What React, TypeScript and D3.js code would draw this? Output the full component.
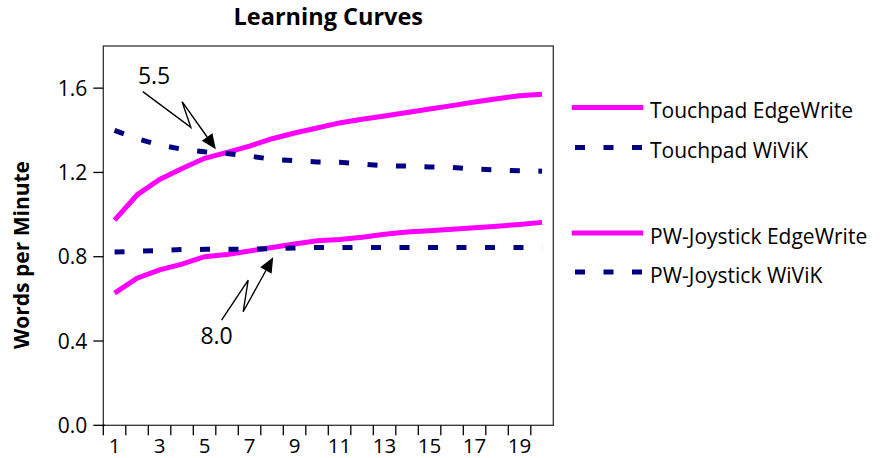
import React from "react";
import * as d3 from "d3";

const sessions = d3.range(1, 21);
const tickLabels = ["1", "3", "5", "7", "9", "11", "13", "15", "17", "19"];
const yTicks = [0, 0.4, 0.8, 1.2, 1.6];

const touchpadEdgeWrite = [0.974, 1.093, 1.167, 1.219, 1.267, 1.295, 1.325, 1.36, 1.387, 1.411, 1.435, 1.452, 1.468, 1.484, 1.501, 1.517, 1.534, 1.55, 1.564, 1.571];
const touchpadWiViK = [1.4, 1.36, 1.33, 1.31, 1.298, 1.29, 1.278, 1.262, 1.256, 1.25, 1.248, 1.24, 1.232, 1.23, 1.226, 1.224, 1.216, 1.212, 1.208, 1.206];
const joystickEdgeWrite = [0.627, 0.698, 0.738, 0.765, 0.8, 0.811, 0.827, 0.844, 0.86, 0.876, 0.882, 0.892, 0.907, 0.917, 0.923, 0.93, 0.937, 0.945, 0.953, 0.963];
const joystickWiViK = [0.822, 0.826, 0.83, 0.834, 0.835, 0.836, 0.836, 0.838, 0.841, 0.844, 0.844, 0.844, 0.844, 0.844, 0.844, 0.844, 0.844, 0.844, 0.844, 0.844];

const seriesNames = ["Touchpad EdgeWrite", "Touchpad WiViK", "PW-Joystick EdgeWrite", "PW-Joystick WiViK"];
const seriesValues = [touchpadEdgeWrite, touchpadWiViK, joystickEdgeWrite, joystickWiViK];
const seriesDashed = [false, true, false, true];

const annotations = [
  { label: "5.5", session: 5.5, value: 1.31 },
  { label: "8.0", session: 8.05, value: 0.797 },
];

const MAGENTA = "#ff00ff";
const NAVY = "#000080";
const FONT = "'Open Sans', 'Noto Sans', sans-serif";

export default function App() {
  const W = 881, H = 458;
  const left = 103.3, right = 553.3, top = 46, bottom = 425.3;

  const x = d3.scaleBand<number>().domain(sessions).range([left, right]).paddingInner(0).paddingOuter(0);
  const bw = x.bandwidth();
  const cx = (s: number) => (x(s) as number) + bw / 2;
  const xc = d3.scaleLinear().domain([1, 20]).range([cx(1), cx(20)]);
  const y = d3.scaleLinear().domain([0, 1.8]).range([bottom, top]);

  const line = d3.line<number>().x((_, i) => cx(sessions[i])).y((d) => y(d));

  const legendY = [107.5, 147.5, 233, 272];

  // zigzag offsets (pixels) relative to the arrow tip
  const zig = [
    { p: [[-73, -57.6], [-25, -22], [-33.7, -47.6]], text: [-61.7, -65.3] },
    { p: [[-51.6, 62.7], [-25, 22.7], [-30, 54.4]], text: [-56.6, 86.7] },
  ];

  return (
    <svg width={W} height={H} style={{ position: "absolute", left: 0, top: 0 }} fontFamily={FONT}>
      <rect x={0} y={0} width={W} height={H} fill="#fff" />
      {/* title */}
      <text x={(left + right) / 2} y={25} textAnchor="middle" fontWeight="bold" fontSize={23.5}>Learning Curves</text>
      {/* y label */}
      <text transform={`translate(29,255) rotate(-90)`} textAnchor="middle" fontWeight="bold" fontSize={21}>Words per Minute</text>

      {/* series */}
      {seriesValues.map((vals, i) => (
        <path key={i} d={line(vals) || ""} fill="none"
          stroke={seriesDashed[i] ? NAVY : MAGENTA} strokeWidth={5}
          strokeDasharray={seriesDashed[i] ? "10 18.5" : undefined} />
      ))}

      {/* frame */}
      <rect x={left} y={top} width={right - left} height={bottom - top} fill="none" stroke="#333" strokeWidth={1.3} />

      {/* y ticks */}
      {yTicks.map((t) => (
        <g key={t}>
          <line x1={left - 10} x2={left + (t === 0 ? 1.5 : 0)} y1={y(t)} y2={y(t)} stroke="#000" strokeWidth={1.3} />
          <text x={left - 16} y={y(t) + 7.5} textAnchor="end" fontSize={21}>{t.toFixed(1)}</text>
        </g>
      ))}

      {/* x ticks */}
      {sessions.map((s) => (
        <line key={s} x1={x(s) as number} x2={x(s) as number} y1={bottom} y2={bottom + 10} stroke="#000" strokeWidth={1.3} />
      ))}
      {tickLabels.map((l) => (
        <text key={l} x={cx(+l)} y={452.5} textAnchor="middle" fontSize={20.5}>{l}</text>
      ))}

      {/* annotations */}
      {annotations.map((a, i) => {
        const tx = xc(a.session), ty = y(a.value);
        const pts = zig[i].p.map(([dx, dy]) => [tx + dx, ty + dy]);
        const last = pts[pts.length - 1];
        const ang = Math.atan2(ty - last[1], tx - last[0]);
        const L = 15, hw = 6.5;
        const bx = tx - L * Math.cos(ang), by = ty - L * Math.sin(ang);
        const nx = -Math.sin(ang), ny = Math.cos(ang);
        const shaft = [...pts, [bx, by]];
        return (
          <g key={a.label}>
            <path d={d3.line()(shaft as [number, number][]) || ""} fill="none" stroke="#000" strokeWidth={1.4} />
            <path d={`M${tx},${ty}L${bx + nx * hw},${by + ny * hw}L${bx - nx * hw},${by - ny * hw}Z`} fill="#000" />
            <text x={tx + zig[i].text[0]} y={ty + zig[i].text[1]} textAnchor="middle" fontSize={23}>{a.label}</text>
          </g>
        );
      })}

      {/* legend */}
      {seriesNames.map((n, i) => (
        <g key={n}>
          {seriesDashed[i] ? (
            <line x1={575} x2={642} y1={legendY[i]} y2={legendY[i]} stroke={NAVY} strokeWidth={5} strokeDasharray="10 18.5" />
          ) : (
            <line x1={571.7} x2={643.3} y1={legendY[i]} y2={legendY[i]} stroke={MAGENTA} strokeWidth={5} />
          )}
          <text x={650} y={legendY[i] + 10.5} fontSize={21}>{n}</text>
        </g>
      ))}
    </svg>
  );
}
